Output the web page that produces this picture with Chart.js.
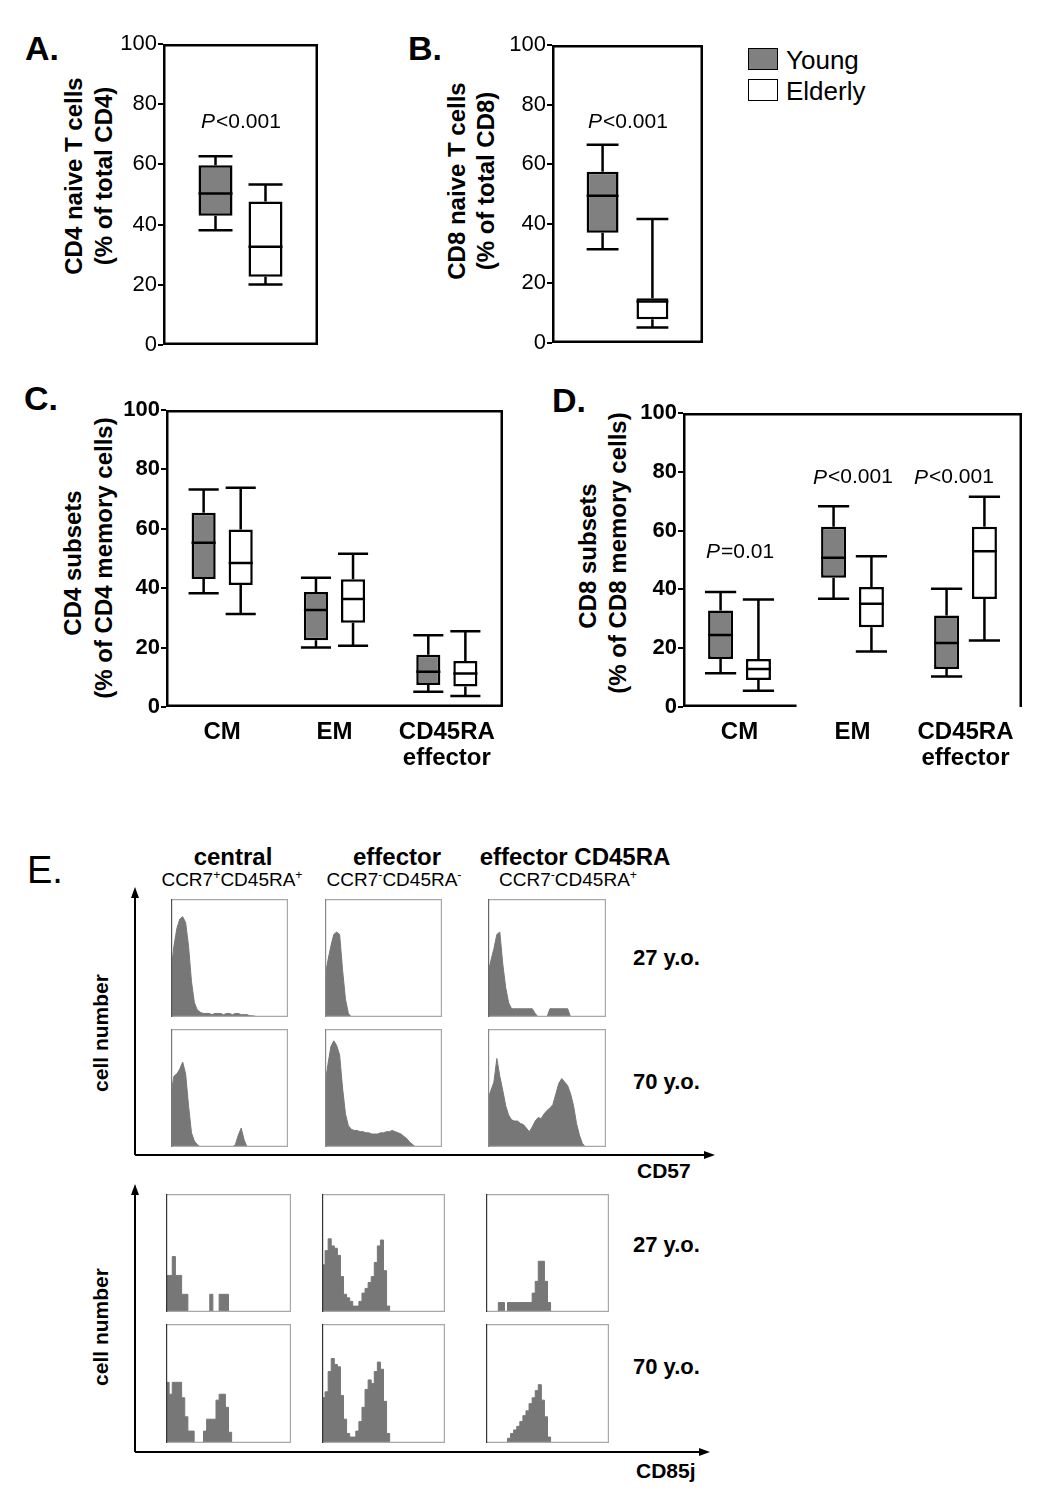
<!DOCTYPE html>
<html>
<head>
<meta charset="utf-8">
<script src="https://cdn.jsdelivr.net/npm/chart.js@4.4.0/dist/chart.umd.min.js"></script>
<style>
body { margin: 0; background: #fff; }
#page { position: relative; width: 1050px; height: 1499px; overflow: hidden; font-family: "Liberation Sans", Arial, sans-serif; color: #000; }
canvas { position: absolute; }
.t { position: absolute; white-space: nowrap; line-height: 1; transform: translate(-50%, -50%); }
.l { transform: translate(0, -50%); }
.r { transform: translate(-50%, -50%) rotate(-90deg); }
.b { font-weight: bold; }
.sw { position: absolute; width: 28px; height: 20px; border: 1.5px solid #000; }
sup { font-size: 65%; vertical-align: 0.55em; line-height: 0; }
</style>
</head>
<body>
<div id="page">
  <!-- panel letters -->
  <div class="t l b" style="left:25px;top:48px;font-size:34px">A.</div>
  <div class="t l b" style="left:408px;top:48px;font-size:34px">B.</div>
  <div class="t l b" style="left:24px;top:398px;font-size:34px">C.</div>
  <div class="t l b" style="left:552px;top:400px;font-size:34px">D.</div>
  <div class="t l" style="left:27px;top:870px;font-size:38px">E.</div>

  <!-- y titles -->
  <div class="t r b" style="left:74px;top:176px;font-size:24px">CD4 naive T cells</div>
  <div class="t r b" style="left:104px;top:176px;font-size:24px">(% of total CD4)</div>
  <div class="t r b" style="left:457px;top:181px;font-size:24px">CD8 naive T cells</div>
  <div class="t r b" style="left:486px;top:181px;font-size:24px">(% of total CD8)</div>
  <div class="t r b" style="left:73px;top:563px;font-size:24px">CD4 subsets</div>
  <div class="t r b" style="left:104px;top:558px;font-size:24px">(% of CD4 memory cells)</div>
  <div class="t r b" style="left:588px;top:556px;font-size:24px">CD8 subsets</div>
  <div class="t r b" style="left:618px;top:553px;font-size:24px">(% of CD8 memory cells)</div>

  <!-- legend -->
  <div class="sw" style="left:748px;top:48px;background:#808080"></div>
  <div class="t l" style="left:786px;top:60px;font-size:26px">Young</div>
  <div class="sw" style="left:748px;top:79px;background:#fff"></div>
  <div class="t l" style="left:786px;top:91px;font-size:26px">Elderly</div>

  <canvas id="chA" width="209" height="331" style="left:113px;top:29px"></canvas>
  <canvas id="chB" width="205" height="328" style="left:502px;top:30px"></canvas>
  <canvas id="chC" width="391" height="376" style="left:116px;top:395px"></canvas>
  <canvas id="chD" width="393" height="373" style="left:633px;top:398px"></canvas>

  <!-- panel E headers -->
  <div class="t b" style="left:233px;top:857px;font-size:24px">central</div>
  <div class="t" style="left:232px;top:879px;font-size:19px">CCR7<sup>+</sup>CD45RA<sup>+</sup></div>
  <div class="t b" style="left:397px;top:857px;font-size:24px">effector</div>
  <div class="t" style="left:394px;top:879px;font-size:19px">CCR7<sup>-</sup>CD45RA<sup>-</sup></div>
  <div class="t b" style="left:575px;top:857px;font-size:24px">effector CD45RA</div>
  <div class="t" style="left:568px;top:879px;font-size:19px">CCR7<sup>-</sup>CD45RA<sup>+</sup></div>

  <div class="t l b" style="left:633px;top:958px;font-size:22px">27 y.o.</div>
  <div class="t l b" style="left:633px;top:1082px;font-size:22px">70 y.o.</div>
  <div class="t l b" style="left:633px;top:1245px;font-size:22px">27 y.o.</div>
  <div class="t l b" style="left:633px;top:1367px;font-size:22px">70 y.o.</div>
  <div class="t l b" style="left:637px;top:1170px;font-size:21px">CD57</div>
  <div class="t l b" style="left:636px;top:1470px;font-size:21px">CD85j</div>
  <div class="t r b" style="left:100px;top:1033px;font-size:21px">cell number</div>
  <div class="t r b" style="left:100px;top:1327px;font-size:21px">cell number</div>

  <svg width="1050" height="1499" style="position:absolute;left:0;top:0;pointer-events:none">
    <g stroke="#000" stroke-width="2" fill="none">
      <path d="M135 1155 V894 M135 1155 H708"/>
      <path d="M135 1452 V1191 M135 1452 H703"/>
    </g>
    <g fill="#000">
      <path d="M135 887 l-4 11 h8 z"/><path d="M715 1155 l-11 -4 v8 z"/>
      <path d="M135 1184 l-4 11 h8 z"/><path d="M710 1452 l-11 -4 v8 z"/>
    </g>
  </svg>

  <canvas id="h1" width="117" height="118" style="left:171px;top:899px"></canvas>
  <canvas id="h2" width="117" height="118" style="left:325px;top:899px"></canvas>
  <canvas id="h3" width="118" height="118" style="left:488px;top:899px"></canvas>
  <canvas id="h4" width="117" height="118" style="left:171px;top:1029px"></canvas>
  <canvas id="h5" width="117" height="118" style="left:325px;top:1029px"></canvas>
  <canvas id="h6" width="118" height="118" style="left:488px;top:1029px"></canvas>
  <canvas id="h7" width="125" height="118" style="left:166px;top:1194px"></canvas>
  <canvas id="h8" width="123" height="118" style="left:322px;top:1194px"></canvas>
  <canvas id="h9" width="123" height="118" style="left:486px;top:1194px"></canvas>
  <canvas id="h10" width="125" height="119" style="left:166px;top:1324px"></canvas>
  <canvas id="h11" width="123" height="119" style="left:322px;top:1324px"></canvas>
  <canvas id="h12" width="123" height="119" style="left:486px;top:1324px"></canvas>
</div>

<script>
const FONT = '"Liberation Sans", Arial, sans-serif';

// box plots: each entry is [min, q1, median, q3, max]
const naiveCats = [''];
const aYoung   = [[38.1, 42.9, 50.3, 59.7, 62.7]];
const aElderly = [[20.1, 22.7, 32.6, 47.7, 53.3]];
const bYoung   = [[31.5, 37, 49.4, 57.5, 66.5]];
const bElderly = [[5.2, 8, 13.9, 15, 41.6]];

const memCats = ['CM', 'EM', ['CD45RA', 'effector']];
const cYoung   = [[38.3, 43.1, 55.3, 65.4, 73.2], [20, 22.5, 32.7, 38.7, 43.5], [5.1, 7.4, 11.9, 17.6, 24.2]];
const cElderly = [[31.3, 41.1, 48.5, 59.8, 73.8], [20.6, 28.4, 36.4, 43, 51.6], [3.7, 6.9, 11.3, 15.5, 25.5]];
const dYoung   = [[11.5, 16.3, 24.5, 32.8, 39.1], [36.8, 44, 50.8, 61.3, 68.3], [10.4, 12.9, 21.8, 31.1, 40.2]];
const dElderly = [[5.5, 9.2, 12.9, 16.3, 36.6], [18.9, 27.1, 35.1, 40.8, 51.3], [22.6, 36.7, 53, 61.3, 71.5]];

const yTicks = [0, 20, 40, 60, 80, 100];

// p-values, one per group
const aPText = ['<0.001'], aPAt = [74];
const bPText = ['<0.001'], bPAt = [74];
const dPText = ['=0.01', '<0.001', '<0.001'], dPAt = [52.5, 78, 78];

// histograms, % of box height per bin (40 bins across)
const bins = Array.from({length: 41}, (_, i) => i);
const cd57Central27  = [38, 60, 75, 83, 85, 80, 60, 30, 12, 6, 4, 3, 3, 3, 2, 3, 3, 3, 2, 3, 3, 2, 3, 3, 2, 2, 2, 1, 1, 0.5, 0];
const cd57Effector27 = [34, 48, 60, 70, 72, 70, 40, 15, 3, 0];
const cd57EffRA27    = [37, 48, 58, 70, 72, 45, 25, 12, 7, 7, 7, 7, 7, 7, 7, 7, 3, 0, 0, 0, 0, 7, 7, 7, 7, 7, 7, 7, 0];
const cd57Central70  = [45, 60, 62, 66, 72, 62, 35, 12, 5, 2, 0, 0, 0, 0, 0, 0, 0, 0, 0, 0, 0, 0, 2, 10, 16, 6, 0];
const cd57Effector70 = [53, 70, 85, 90, 86, 78, 50, 28, 18, 15, 14, 14, 13, 13, 12, 12, 11, 11, 11, 12, 12, 13, 13, 14, 13, 12, 11, 9, 7, 4, 2, 0];
const cd57EffRA70    = [41, 48, 55, 75, 60, 48, 35, 27, 23, 22, 22, 20, 19, 16, 13, 17, 22, 25, 24, 28, 31, 33, 36, 45, 54, 58, 55, 52, 45, 35, 20, 10, 3, 0];
const cd85Central27  = [31, 31, 31, 47, 31, 31, 15, 15, 0, 0, 0, 0, 0, 0, 0, 15, 0, 0, 15, 15, 15, 0];
const cd85Effector27 = [20, 40, 52, 62, 56, 54, 48, 30, 15, 12, 9, 5, 5, 9, 16, 20, 25, 30, 42, 56, 61, 35, 5, 0];
const cd85EffRA27    = [0, 0, 0, 0, 0, 8, 8, 0, 8, 8, 8, 8, 8, 8, 8, 8, 16, 26, 43, 43, 26, 8, 0];
const cd85Central70  = [41, 51, 41, 51, 51, 51, 38, 22, 10, 10, 0, 0, 0, 10, 20, 20, 20, 36, 41, 41, 30, 9, 0];
const cd85Effector70 = [30, 38, 43, 60, 71, 66, 64, 40, 20, 8, 5, 5, 10, 18, 30, 45, 53, 50, 60, 68, 62, 35, 8, 0];
const cd85EffRA70    = [0, 0, 0, 0, 0, 0, 0, 0, 4, 8, 11, 14, 18, 23, 27, 33, 38, 44, 49, 36, 22, 5, 0];

// draws the box round the plot area
const framePlugin = {
  id: 'frame',
  afterDraw(chart, args, o) {
    const {ctx, chartArea: a} = chart;
    const h = o.width / 2;
    const l = a.left + h, r = a.right - h, t = a.top + h, b = a.bottom - h;
    ctx.save();
    ctx.lineWidth = o.width;
    ctx.strokeStyle = o.color;
    ctx.lineCap = 'square';
    ctx.beginPath();
    ctx.moveTo(l, t); ctx.lineTo(r, t); ctx.lineTo(r, b);
    ctx.moveTo(l, b); ctx.lineTo(l + (r - l) * (o.bottomPart || 1), b);
    ctx.stroke();
    ctx.strokeStyle = o.leftColor || o.color;
    ctx.beginPath();
    ctx.moveTo(l, t); ctx.lineTo(l, b);
    ctx.stroke();
    ctx.restore();
  }
};

// whiskers and medians on top of the floating bars
const boxPlugin = {
  id: 'boxwhisker',
  afterDatasetsDraw(chart, args, o) {
    const {ctx, scales: {y}} = chart;
    const py = v => y.getPixelForValue(v);
    ctx.save();
    ctx.strokeStyle = '#000';
    ctx.lineWidth = o.lineWidth;
    chart.data.datasets.forEach((ds, di) => {
      chart.getDatasetMeta(di).data.forEach((bar, i) => {
        const s = ds.stats[i];
        const x = bar.x, hw = bar.width / 2, cw = hw * o.cap;
        ctx.beginPath();
        ctx.moveTo(x, py(s[3])); ctx.lineTo(x, py(s[4]));
        ctx.moveTo(x - cw, py(s[4])); ctx.lineTo(x + cw, py(s[4]));
        ctx.moveTo(x, py(s[1])); ctx.lineTo(x, py(s[0]));
        ctx.moveTo(x - cw, py(s[0])); ctx.lineTo(x + cw, py(s[0]));
        ctx.moveTo(x - hw, py(s[2])); ctx.lineTo(x + hw, py(s[2]));
        ctx.stroke();
      });
    });
    ctx.restore();
  }
};

// "P<0.001" style labels with italic P
const pPlugin = {
  id: 'pvals',
  afterDraw(chart, args, o) {
    if (!o.text) return;
    const {ctx, scales: {x, y}} = chart;
    ctx.save();
    ctx.textBaseline = 'middle';
    ctx.textAlign = 'left';
    ctx.fillStyle = '#000';
    o.text.forEach((t, i) => {
      ctx.font = 'italic 21px ' + FONT;
      const wP = ctx.measureText('P').width;
      ctx.font = '21px ' + FONT;
      const wT = ctx.measureText(t).width;
      const cx = x.getPixelForValue(i) + (o.dx ? o.dx[i] : 0);
      const cy = y.getPixelForValue(o.at[i]);
      const left = cx - (wP + wT) / 2;
      ctx.font = 'italic 21px ' + FONT;
      ctx.fillText('P', left, cy);
      ctx.font = '21px ' + FONT;
      ctx.fillText(t, left + wP + 1, cy);
    });
    ctx.restore();
  }
};

function boxChart(id, cats, young, elderly, c) {
  const ds = (label, stats, bg) => ({
    label: label,
    data: stats.map(s => [s[1], s[3]]),
    stats: stats,
    backgroundColor: bg,
    borderColor: '#000',
    borderWidth: 2.5,
    borderSkipped: false,
    categoryPercentage: c.cat,
    barPercentage: c.bar
  });
  const xScale = {
    display: c.showX,
    offset: true,
    grid: { display: false },
    border: { display: false },
    ticks: { color: '#000', font: { family: FONT, size: 24, weight: 'bold', lineHeight: 1.1 }, padding: 4, maxRotation: 0, autoSkip: false }
  };
  if (c.showX) xScale.afterFit = s => { s.height = 60; };
  return new Chart(document.getElementById(id), {
    type: 'bar',
    data: { labels: cats, datasets: [ds('Young', young, '#808080'), ds('Elderly', elderly, '#ffffff')] },
    options: {
      responsive: false,
      animation: false,
      events: [],
      layout: { padding: { left: 0, top: 15, right: 4, bottom: c.padBottom } },
      plugins: {
        legend: { display: false },
        tooltip: { enabled: false },
        frame: { width: 2.5, color: '#000', bottomPart: c.bottomPart },
        boxwhisker: { lineWidth: 2.5, cap: c.capScale },
        pvals: { text: c.pText, at: c.pAt, dx: c.pDx }
      },
      scales: {
        x: xScale,
        y: {
          min: 0, max: 100,
          afterBuildTicks: s => { s.ticks = yTicks.map(v => ({ value: v })); },
          afterFit: s => { s.width = 50; },
          border: { display: false },
          grid: { drawOnChartArea: false, color: '#000', lineWidth: 2, tickLength: 5 },
          ticks: { color: '#000', padding: 1, font: { family: FONT, size: 22, weight: c.tickWeight } }
        }
      }
    },
    plugins: [framePlugin, boxPlugin, pPlugin]
  });
}

boxChart('chA', naiveCats, aYoung, aElderly, { cat: 0.645, bar: 0.68, padBottom: 15, showX: false, capScale: 1, pText: aPText, pAt: aPAt, tickWeight: 'normal' });
boxChart('chB', naiveCats, bYoung, bElderly, { cat: 0.66, bar: 0.64, padBottom: 15, showX: false, capScale: 1, pText: bPText, pAt: bPAt, tickWeight: 'normal' });
boxChart('chC', memCats, cYoung, cElderly, { cat: 0.66, bar: 0.65, padBottom: 4, showX: true, capScale: 1.25, tickWeight: 'bold' });
boxChart('chD', memCats, dYoung, dElderly, { cat: 0.67, bar: 0.66, padBottom: 4, showX: true, capScale: 1.25, bottomPart: 0.33, pText: dPText, pAt: dPAt, pDx: [0, 0, -12], tickWeight: 'bold' });

function histChart(id, values, stepped, leftColor) {
  return new Chart(document.getElementById(id), {
    type: 'line',
    data: {
      labels: bins,
      datasets: [{
        data: values,
        fill: 'origin',
        backgroundColor: '#777777',
        borderColor: '#777777',
        borderWidth: 1,
        pointRadius: 0,
        tension: 0,
        stepped: stepped ? 'after' : false
      }]
    },
    options: {
      responsive: false,
      animation: false,
      events: [],
      layout: { padding: 0 },
      plugins: { legend: { display: false }, tooltip: { enabled: false }, frame: { width: 1.2, color: '#a8a8a8', leftColor: leftColor } },
      scales: {
        x: { display: false, offset: false },
        y: { display: false, min: 0, max: 100 }
      }
    },
    plugins: [framePlugin]
  });
}

histChart('h1', cd57Central27, false, '#555');
histChart('h2', cd57Effector27, false, '#888');
histChart('h3', cd57EffRA27, false, '#666');
histChart('h4', cd57Central70, false, '#777');
histChart('h5', cd57Effector70, false, '#888');
histChart('h6', cd57EffRA70, false, '#888');
histChart('h7', cd85Central27, true, '#333');
histChart('h8', cd85Effector27, true, '#333');
histChart('h9', cd85EffRA27, true, '#333');
histChart('h10', cd85Central70, true, '#333');
histChart('h11', cd85Effector70, true, '#333');
histChart('h12', cd85EffRA70, true, '#333');
</script>
</body>
</html>
